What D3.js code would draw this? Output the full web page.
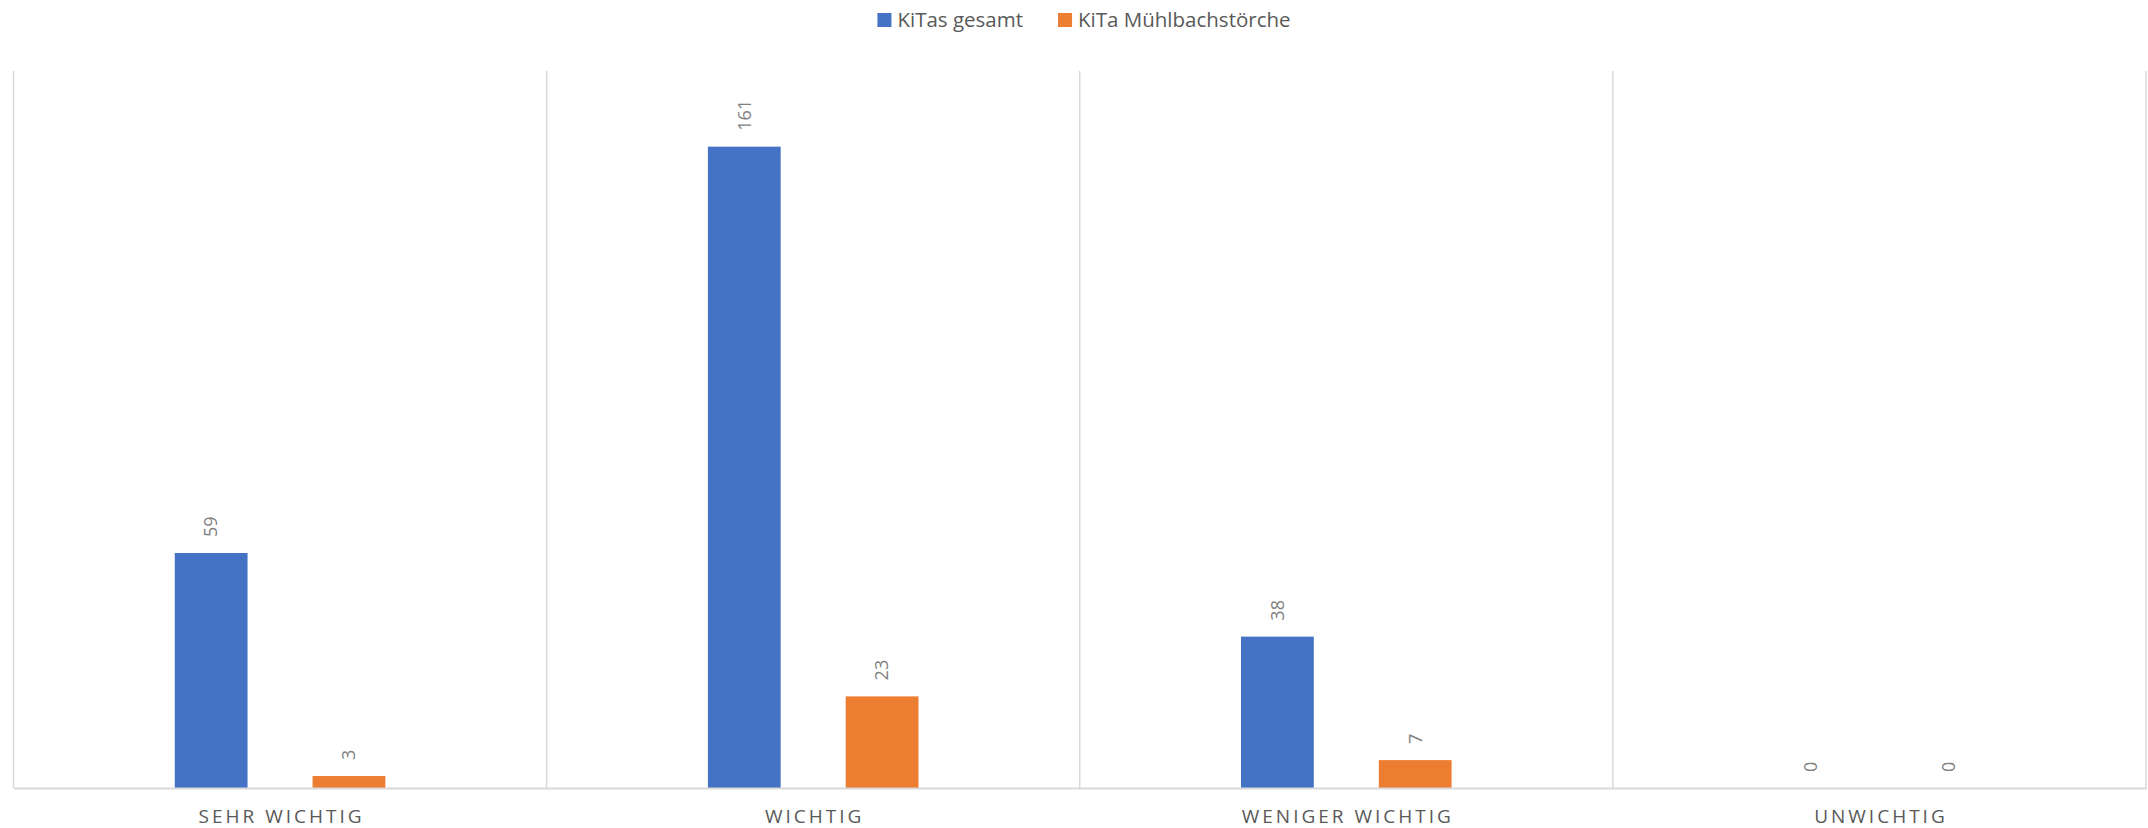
<!DOCTYPE html>
<html>
<head>
<meta charset="utf-8">
<script src="https://cdn.jsdelivr.net/npm/d3@7"></script>
<style>
  html, body { margin: 0; padding: 0; background: #fff; }
  svg { display: block; }
  text { font-family: "Open Sans", "Noto Sans", sans-serif; fill: #595959; }
</style>
</head>
<body>
<svg id="chart" width="2148" height="828"></svg>
<script>
const categories = ["SEHR WICHTIG", "WICHTIG", "WENIGER WICHTIG", "UNWICHTIG"];
const seriesNames = ["KiTas gesamt", "KiTa Mühlbachstörche"];
const kitasGesamt = [59, 161, 38, 0];
const kitaMuehlbach = [3, 23, 7, 0];
const seriesColors = ["#4472C4", "#ED7D31"];
const yDomain = [0, 180];

const seriesValues = [kitasGesamt, kitaMuehlbach];

const W = 2148, H = 828;
const margin = { left: 13.5, right: 2, top: 71, bottom: 40 };
const svg = d3.select("#chart");

const x0 = d3.scaleBand().domain(categories)
  .range([margin.left, W - margin.right]).paddingInner(0).paddingOuter(0);
const bw = x0.bandwidth();
// Excel-like cluster: bar width ~13.6% of band, gap between bars ~12.2%
const barW = bw * 0.1365;
const innerGap = bw * 0.122;
const x1 = d3.scaleBand().domain(seriesNames)
  .range([bw / 2 - barW - innerGap / 2, bw / 2 + barW + innerGap / 2])
  .paddingInner(innerGap / (barW + innerGap)).paddingOuter(0);

const y = d3.scaleLinear().domain(yDomain).range([788, margin.top]);

// category divider lines
const dividers = categories.map(c => x0(c)).concat([x0(categories[categories.length - 1]) + bw]);
svg.append("g").selectAll("line").data(dividers).join("line")
  .attr("x1", d => d).attr("x2", d => d)
  .attr("y1", y(yDomain[1])).attr("y2", y(0))
  .attr("stroke", "#D9D9D9").attr("stroke-width", 1.5);

// bars
const data = [];
categories.forEach((c, i) => seriesNames.forEach((s, j) => data.push({ c, s, j, v: seriesValues[j][i] })));

const g = svg.append("g");
g.selectAll("rect").data(data).join("rect")
  .attr("x", d => x0(d.c) + x1(d.s))
  .attr("width", x1.bandwidth())
  .attr("y", d => y(d.v))
  .attr("height", d => y(0) - y(d.v))
  .attr("fill", d => seriesColors[d.j]);

// data labels (rotated)
g.selectAll("text.lbl").data(data).join("text")
  .attr("class", "lbl")
  .attr("transform", d => `translate(${x0(d.c) + x1(d.s) + x1.bandwidth() / 2},${y(d.v) - 16}) rotate(-90)`)
  .attr("dy", "0.35em")
  .attr("text-anchor", "start")
  .style("font-size", "18px")
  .style("fill", "#7f7f7f")
  .text(d => d.v);

// x axis
const xAxis = d3.axisBottom(x0).tickSize(0).tickPadding(0);
const ax = svg.append("g").attr("transform", `translate(0,${y(0)})`).call(xAxis);
ax.select(".domain").attr("stroke", "#D9D9D9").attr("stroke-width", 2);
ax.selectAll(".tick text")
  .attr("y", 35).attr("dy", 0)
  .style("font-size", "19px")
  .style("letter-spacing", "3px")
  .style("font-family", "\"Open Sans\", sans-serif")
  .style("fill", "#595959")
  .attr("dx", "1.5px");

// legend
const legend = svg.append("g");
const items = legend.selectAll("g").data(seriesNames).join("g");
items.append("rect").attr("width", 14).attr("height", 14).attr("y", 13)
  .attr("fill", (d, i) => seriesColors[i]);
items.append("text").attr("x", 20).attr("y", 27)
  .style("font-size", "20.5px").text(d => d);
let widths = [];
items.each(function () { widths.push(20 + this.querySelector("text").getComputedTextLength()); });
const gap = 35;
const total = d3.sum(widths) + gap * (widths.length - 1);
let cx = 1084 - total / 2;
items.each(function (d, i) {
  d3.select(this).attr("transform", `translate(${cx},0)`);
  cx += widths[i] + gap;
});
</script>
</body>
</html>
